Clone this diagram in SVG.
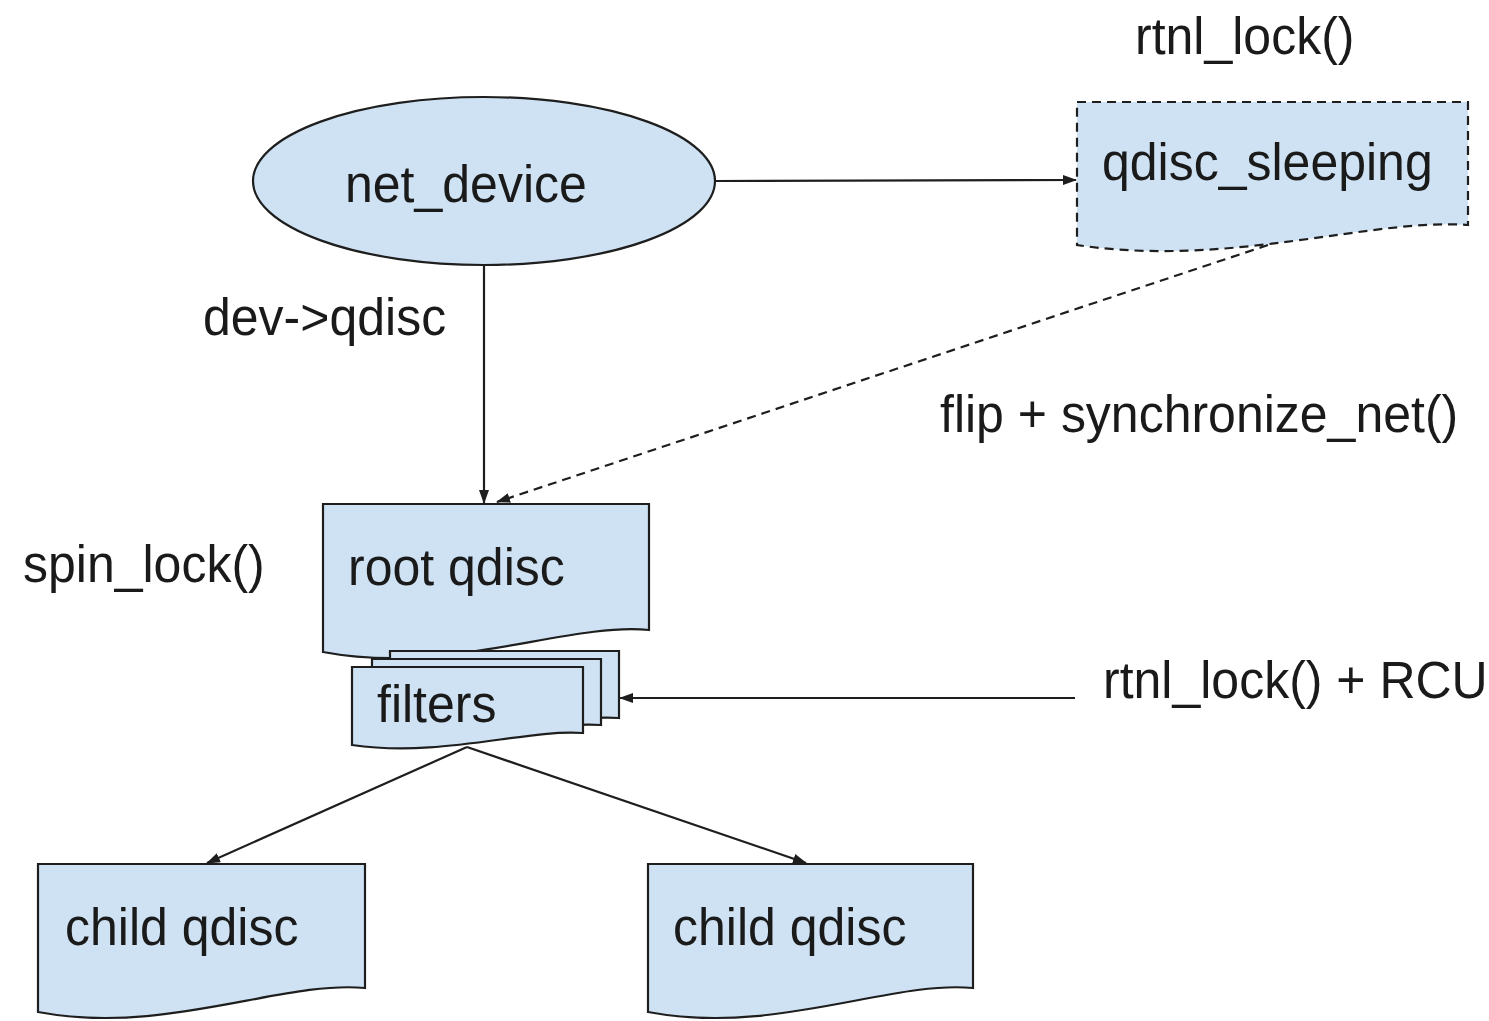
<svg xmlns="http://www.w3.org/2000/svg" width="1489" height="1021" viewBox="0 0 1489 1021">
  <style>
    .node { fill: #cfe2f3; stroke: #1e1e1e; stroke-width: 2.2; }
    .dashed { stroke-dasharray: 9 6; }
    .lbl { font-family: "Liberation Sans", Arial, sans-serif; font-size: 50px; fill: #1a1a1a; }
    .edge { fill: none; stroke: #1e1e1e; stroke-width: 2.2; }
  </style>
  <defs>
    <marker id="arrow" viewBox="0 0 14 10" refX="13" refY="5" markerWidth="14" markerHeight="10" markerUnits="userSpaceOnUse" orient="auto">
      <path d="M0,0 L14,5 L0,10 Z" fill="#1e1e1e"/>
    </marker>
  </defs>
  <rect width="1489" height="1021" fill="#ffffff"/>

  <g id="net_device">
    <ellipse class="node" cx="484" cy="181" rx="231" ry="84"/>
    <text class="lbl" transform="translate(345,202) scale(1,1.04)">net_device</text>
  </g>

  <g id="qdisc_sleeping">
    <path class="node dashed" d="M1077,102 H1468 V225 C1370,218 1230,268 1077,245 Z"/>
    <text class="lbl" transform="translate(1102,180) scale(1,1.04)">qdisc_sleeping</text>
  </g>

  <g id="root_qdisc">
    <path class="node" d="M323,504 H649 V630 C566,622 450,676 323,652 Z"/>
    <text class="lbl" transform="translate(348,585) scale(1,1.04)">root qdisc</text>
  </g>

  <g id="filters">
    <path class="node" d="M390,651 H619 V718 C560,714 480,742 390,730 Z"/>
    <path class="node" d="M372,659 H601 V725 C542,721 462,749 372,737 Z"/>
    <path class="node" d="M352,667 H583 V733 C524,729 442,758 352,745 Z"/>
    <text class="lbl" transform="translate(377,722) scale(1,1.04)">filters</text>
  </g>

  <g id="child_qdisc_left">
    <path class="node" d="M38,864 H365 V988 C282,980 165,1036 38,1012 Z"/>
    <text class="lbl" transform="translate(65,945) scale(1,1.04)">child qdisc</text>
  </g>

  <g id="child_qdisc_right">
    <path class="node" d="M648,864 H973 V988 C890,980 774,1036 648,1012 Z"/>
    <text class="lbl" transform="translate(673,945) scale(1,1.04)">child qdisc</text>
  </g>

  <g id="connectors">
    <line class="edge" x1="715" y1="181" x2="1076" y2="180" marker-end="url(#arrow)"/>
    <line class="edge" x1="484" y1="265" x2="484" y2="503" marker-end="url(#arrow)"/>
    <line class="edge dashed" x1="1268" y1="245" x2="497" y2="502" marker-end="url(#arrow)"/>
    <line class="edge" x1="1075" y1="698" x2="620" y2="698" marker-end="url(#arrow)"/>
    <line class="edge" x1="467" y1="747" x2="207" y2="863" marker-end="url(#arrow)"/>
    <line class="edge" x1="467" y1="747" x2="806" y2="863" marker-end="url(#arrow)"/>
  </g>

  <g id="labels">
    <text class="lbl" transform="translate(1135,54) scale(1,1.04)">rtnl_lock()</text>
    <text class="lbl" transform="translate(203,335) scale(1,1.04)">dev-&gt;qdisc</text>
    <text class="lbl" transform="translate(940,432) scale(1,1.04)">flip + synchronize_net()</text>
    <text class="lbl" transform="translate(23,582) scale(1,1.04)">spin_lock()</text>
    <text class="lbl" transform="translate(1103,698) scale(1,1.04)">rtnl_lock() + RCU</text>
  </g>
</svg>
